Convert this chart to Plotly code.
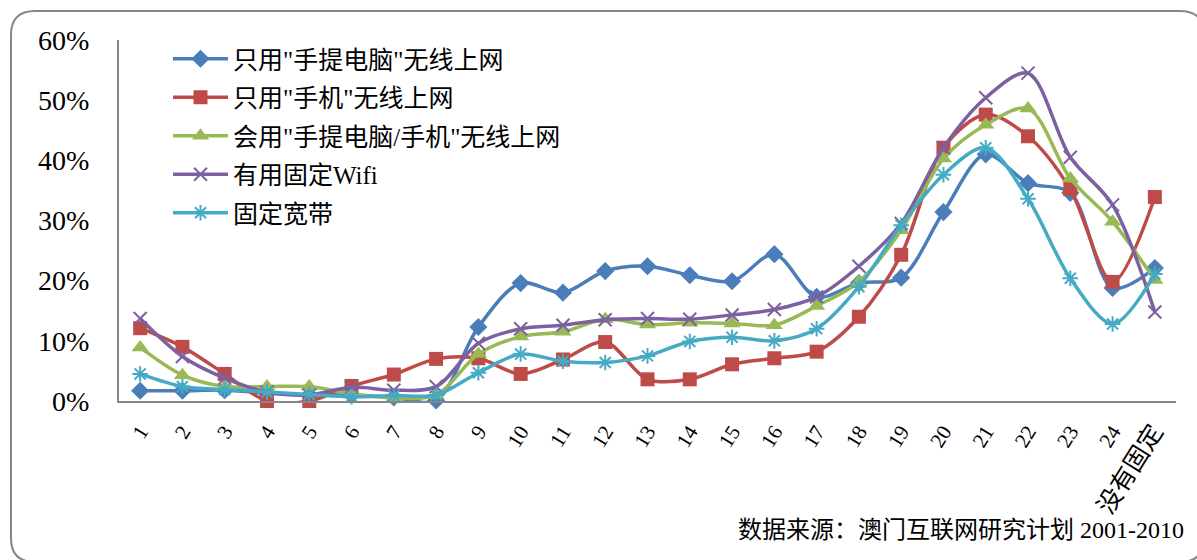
import plotly.graph_objects as go

# 类别（时段/分组）与各系列百分比数值
categories = [str(i) for i in range(1, 25)] + ["没有固定"]

laptop_only = [1.7, 1.7, 1.8, 1.3, 1.0, 1.0, 0.6, 0.1, 12.3, 19.6, 18.0, 21.6, 22.4,
               20.9, 19.9, 24.4, 17.3, 19.6, 20.5, 31.4, 41.0, 36.2, 34.6, 18.8, 22.1]
phone_only = [12.1, 9.0, 4.5, 0.0, 0.0, 2.5, 4.4, 7.0, 7.1, 4.5, 6.9, 9.8, 3.6,
              3.6, 6.1, 7.1, 8.2, 14.0, 24.3, 42.1, 47.6, 44.0, 35.2, 19.8, 33.9]
laptop_or_phone = [8.9, 4.3, 2.4, 2.4, 2.4, 1.2, 0.5, 1.0, 7.8, 10.7, 11.5, 13.6, 12.7,
                   13.0, 12.9, 12.6, 15.8, 19.8, 28.4, 40.3, 45.9, 48.6, 37.0, 29.8, 20.1]
fixed_wifi = [13.7, 7.4, 3.8, 1.5, 1.0, 2.3, 1.8, 2.4, 9.6, 12.0, 12.6, 13.5, 13.7,
              13.6, 14.3, 15.2, 17.3, 22.4, 29.5, 42.1, 50.4, 54.5, 40.5, 32.6, 14.8]
broadband = [4.5, 2.4, 1.9, 1.5, 1.1, 0.7, 0.9, 1.0, 4.7, 7.8, 6.6, 6.4, 7.5,
             9.9, 10.6, 10.0, 12.0, 19.0, 29.2, 37.6, 42.1, 33.6, 20.4, 12.8, 21.1]

series_names = ['只用"手提电脑"无线上网', '只用"手机"无线上网', '会用"手提电脑/手机"无线上网',
                '有用固定Wifi', '固定宽带']
series_values = [laptop_only, phone_only, laptop_or_phone, fixed_wifi, broadband]
series_colors = ["#4A7EBB", "#BE4B48", "#98B954", "#7D60A0", "#46AAC5"]
series_symbols = ["diamond", "square", "triangle-up", "x-thin", "asterisk"]
series_sizes = [14, 14, 15, 13, 13]

y_ticks = [0, 10, 20, 30, 40, 50, 60]

SERIF = "Liberation Serif, 'Times New Roman', 'Noto Sans CJK SC', serif"

fig = go.Figure()
for i, (name, vals, col, sym, sz) in enumerate(
        zip(series_names, series_values, series_colors, series_symbols, series_sizes)):
    open_sym = sym in ("x-thin", "asterisk")
    fig.add_trace(go.Scatter(
        x=categories, y=vals, name=name, mode="lines+markers",
        line=dict(color=col, width=3.5, shape="spline", smoothing=0.9),
        marker=dict(symbol=sym, size=sz, color=col,
                    line=dict(color=col, width=2 if open_sym else 0)),
        cliponaxis=False, legendgroup=f"g{i}",
    ))

# 图表外框（圆角矩形），坐标换算到 paper 坐标系
L, R, T, B = 119, 1176, 40, 401
W, H = R - L, B - T


def px(x):
    return (x - L) / W


def py(y):
    return (B - y) / H


x0, x1, y0, y1, r = 11, 1204, 11, 562, 24
path = (f"M{px(x0 + r)},{py(y0)} L{px(x1 - r)},{py(y0)} Q{px(x1)},{py(y0)} {px(x1)},{py(y0 + r)} "
        f"L{px(x1)},{py(y1 - r)} Q{px(x1)},{py(y1)} {px(x1 - r)},{py(y1)} "
        f"L{px(x0 + r)},{py(y1)} Q{px(x0)},{py(y1)} {px(x0)},{py(y1 - r)} "
        f"L{px(x0)},{py(y0 + r)} Q{px(x0)},{py(y0)} {px(x0 + r)},{py(y0)} Z")

fig.add_shape(type="path", path=path, xref="paper", yref="paper",
              line=dict(color="#868686", width=2), fillcolor="rgba(0,0,0,0)", layer="below")

fig.add_annotation(text="数据来源：澳门互联网研究计划 2001-2010",
                   xref="paper", yref="paper", x=px(1186), y=py(530),
                   xanchor="right", yanchor="middle", showarrow=False,
                   font=dict(family=SERIF, size=24, color="#000000"))

tick_text = [c if c.isdigit() else f"<span style='font-size:25px'>{c}</span>" for c in categories]

fig.update_layout(
    width=1197, height=560,
    margin=dict(l=L, r=1197 - R, t=T, b=560 - B),
    paper_bgcolor="white", plot_bgcolor="white",
    showlegend=True,
    legend=dict(x=px(168), y=py(36), xanchor="left", yanchor="top",
                font=dict(family=SERIF, size=25, color="#000000"),
                bgcolor="rgba(0,0,0,0)", tracegroupgap=3, itemwidth=55),
    xaxis=dict(type="category", range=[-0.5, 24.5], showline=True, linecolor="#868686",
               linewidth=2, showgrid=False, zeroline=False, ticks="",
               tickangle=-58, tickvals=categories, ticktext=tick_text,
               ticklabelstandoff=8,
               tickfont=dict(family=SERIF, size=21, color="#000000")),
    yaxis=dict(range=[0, 60], showline=True, linecolor="#868686", linewidth=2,
               showgrid=False, zeroline=False, ticks="", tickvals=y_ticks,
               ticktext=[f"{v}%" for v in y_ticks], ticklabelstandoff=22,
               tickfont=dict(family=SERIF, size=28, color="#000000")),
)

fig.write_html("out.html")
